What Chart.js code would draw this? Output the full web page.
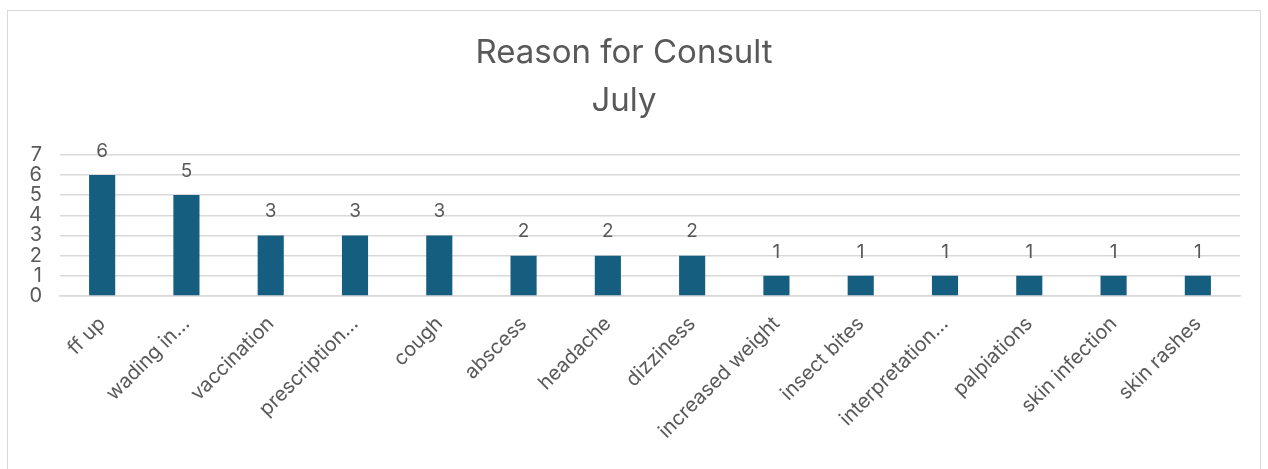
<!DOCTYPE html>
<html>
<head>
<meta charset="utf-8">
<script src="https://cdn.jsdelivr.net/npm/chart.js@4"></script>
<style>
  html, body { margin: 0; padding: 0; background: #fff; }
  #frame {
    position: absolute; left: 7px; top: 10px;
    width: 1252px; height: 470px;
    border: 1px solid #d9d9d9;
  }
  #chart { display: block; }
</style>
</head>
<body>
<div id="frame"><canvas id="chart" width="1252" height="470"></canvas></div>
<script>
// Reason for Consult — July

const categories = [
  'ff up', 'wading in…', 'vaccination', 'prescription…', 'cough', 'abscess',
  'headache', 'dizziness', 'increased weight', 'insect bites', 'interpretation…',
  'palpiations', 'skin infection', 'skin rashes'
];
const counts = [6, 5, 3, 3, 3, 2, 2, 2, 1, 1, 1, 1, 1, 1];
const yTicks = [0, 1, 2, 3, 4, 5, 6, 7];

const FONT = 'Inter, "Open Sans", sans-serif';
const TEXT = '#595959';

// draw the value above each bar
const valueLabels = {
  id: 'valueLabels',
  afterDatasetsDraw(chart) {
    const { ctx } = chart;
    const meta = chart.getDatasetMeta(0);
    ctx.save();
    ctx.fillStyle = TEXT;
    ctx.font = `19px ${FONT}`;
    ctx.textAlign = 'center';
    ctx.textBaseline = 'middle';
    meta.data.forEach((bar, i) => {
      ctx.fillText(String(counts[i]), bar.x, bar.y - 24);
    });
    ctx.restore();
  },
};

new Chart(document.getElementById('chart'), {
  type: 'bar',
  data: {
    labels: categories,
    datasets: [{
      data: counts,
      backgroundColor: '#165e80',
      categoryPercentage: 1,
      barPercentage: 0.31,
    }],
  },
  options: {
    responsive: false,
    animation: false,
    layout: { padding: { left: 0, right: 20, top: 0, bottom: 0 } },
    plugins: {
      legend: { display: false },
      tooltip: { enabled: false },
      title: {
        display: true,
        text: ['Reason for Consult', 'July'],
        color: TEXT,
        font: { family: FONT, size: 33, weight: 'normal', lineHeight: 1.45 },
        padding: { top: 18, bottom: 30 },
      },
    },
    scales: {
      y: {
        min: 0,
        max: 7,
        afterBuildTicks: (s) => { s.ticks = yTicks.map((v) => ({ value: v })); },
        afterFit: (s) => { s.width = 52; },
        border: { display: false },
        grid: { color: '#d9d9d9', lineWidth: 1.5, drawTicks: false },
        ticks: {
          color: TEXT,
          padding: 18,
          autoSkip: false,
          font: { family: FONT, size: 20 },
        },
      },
      x: {
        afterFit: (s) => { s.height = 185; },
        border: { color: '#d9d9d9', width: 1.5 },
        grid: { display: false },
        ticks: {
          color: TEXT,
          minRotation: 45,
          maxRotation: 45,
          autoSkip: false,
          padding: 8,
          font: { family: FONT, size: 20 },
        },
      },
    },
  },
  plugins: [valueLabels],
});
</script>
</body>
</html>
